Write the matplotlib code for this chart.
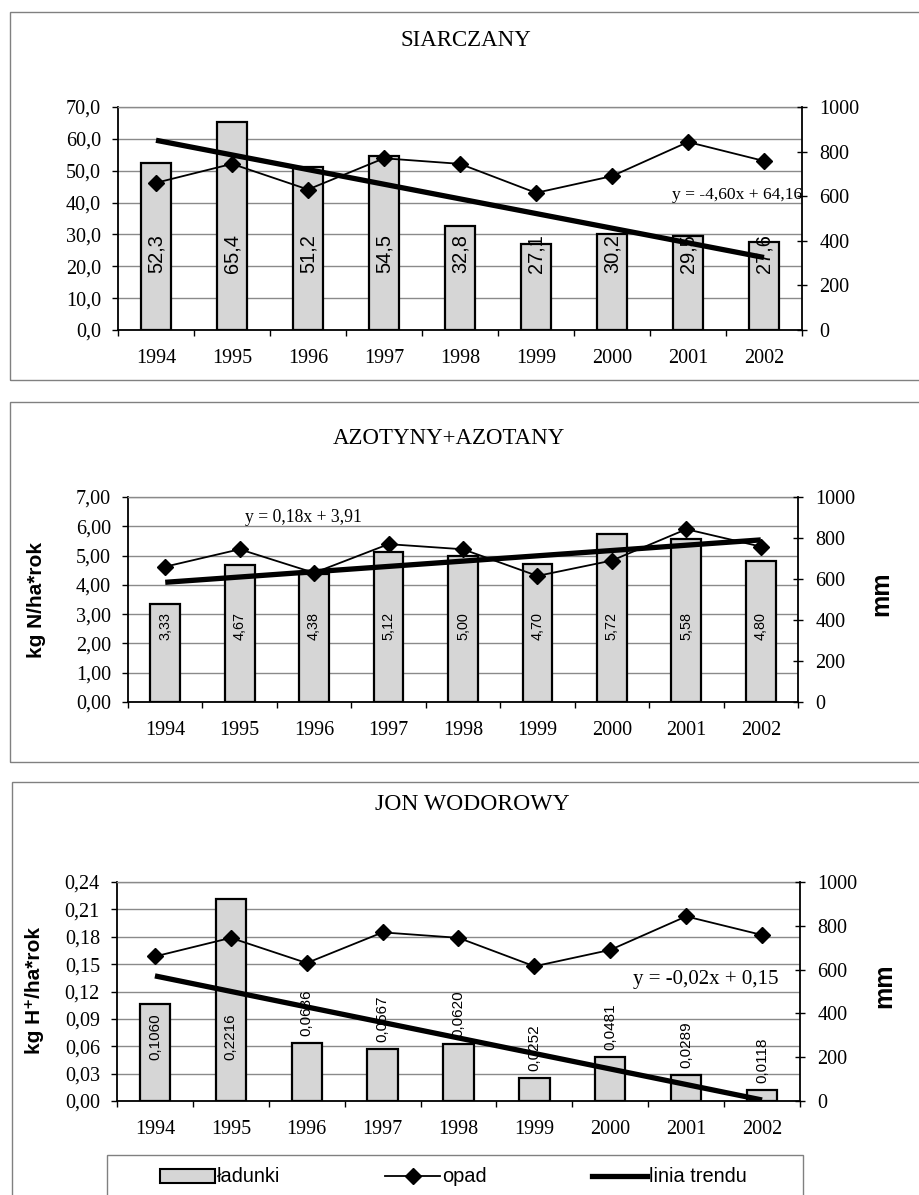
import numpy as np
import matplotlib.pyplot as plt
from matplotlib.patches import Rectangle, Patch
from matplotlib.lines import Line2D
from matplotlib.ticker import FuncFormatter, MultipleLocator, FixedLocator

years = [1994, 1995, 1996, 1997, 1998, 1999, 2000, 2001, 2002]

# annual precipitation, mm (same series on every panel)
opad = [660, 745, 630, 770, 745, 615, 690, 843, 758]

# loads, kg/ha*year
siarczany = [52.3, 65.4, 51.2, 54.5, 32.8, 27.1, 30.2, 29.5, 27.6]
azot = [3.33, 4.67, 4.38, 5.12, 5.00, 4.70, 5.72, 5.58, 4.80]
wodor = [0.1060, 0.2216, 0.0636, 0.0567, 0.0620, 0.0252, 0.0481, 0.0289, 0.0118]

# linear trend y = a*x + b, x = 1..9
trend_a = [-4.600, 0.181, -0.0170]
trend_b = [64.16, 3.906, 0.1541]

titles = ['SIARCZANY', 'AZOTYNY+AZOTANY', 'JON WODOROWY']
ylabels = [None, 'kg N/ha*rok', 'kg H⁺/ha*rok']
legend_labels = ['ładunki', 'opad', 'linia trendu']

W, H = 920, 1195
SERIF = 'Liberation Serif'
SANS = ['Liberation Sans', 'DejaVu Sans']
BAR = '#d6d6d6'
GRID = '#8a8a8a'
FRAME = '#808080'

plt.rcParams['font.family'] = SERIF

fig = plt.figure(figsize=(W / 100, H / 100), dpi=100)


def box(x0, y0, x1, y1):
    # pixel box (top-left origin) -> figure fraction rect
    return [x0 / W, 1 - y1 / H, (x1 - x0) / W, (y1 - y0) / H]


def pl(v, d):
    return f'{v:.{d}f}'.replace('.', ',')


def frame(x0, y0, x1, y1):
    fig.add_artist(Rectangle((x0 / W, 1 - y1 / H), (x1 - x0) / W, (y1 - y0) / H,
                             transform=fig.transFigure, fill=False,
                             ec=FRAME, lw=1.0, clip_on=False))


x = np.arange(1, len(years) + 1)


def panel(rect, vals, ymax, ystep, tdec, ldec, lab_y, lab_fs, k):
    ax = fig.add_axes(box(*rect))
    ax2 = ax.twinx()

    ax.bar(x, vals, width=0.4, color=BAR, edgecolor='black', lw=1.6, zorder=2)

    ax.set_xlim(0.5, len(years) + 0.5)
    ax.set_ylim(0, ymax)
    ax.yaxis.set_major_locator(MultipleLocator(ystep))
    ax.yaxis.set_major_formatter(FuncFormatter(lambda v, p: pl(v, tdec)))
    ax.yaxis.grid(True, color=GRID, lw=1.0)
    ax.set_axisbelow(True)

    ax.xaxis.set_major_locator(FixedLocator(x))
    ax.set_xticklabels([str(y) for y in years])
    ax.xaxis.set_minor_locator(FixedLocator(np.arange(0.5, len(years) + 1, 1)))
    ax.tick_params(axis='x', which='major', length=0, pad=14, labelsize=14.5)
    ax.tick_params(axis='x', which='minor', length=4.5, width=1.0, direction='out')
    ax.tick_params(axis='y', length=4.3, width=1.0, direction='out', pad=8,
                   labelsize=14.5)

    for s in ['left', 'bottom']:
        ax.spines[s].set_linewidth(1.3)
    ax.spines['right'].set_visible(False)
    ax.spines['top'].set_color(GRID)
    ax.spines['top'].set_linewidth(1.0)

    # value labels, rotated inside the bars (or just above the short ones)
    for xi, v in zip(x, vals):
        if lab_y is None or (k == 2 and v < 0.1):
            ax.annotate(pl(v, ldec), (xi, v), xytext=(0, 5), textcoords='offset points',
                        rotation=90, ha='center', va='bottom', fontsize=lab_fs,
                        family=SANS, zorder=3)
        else:
            ax.text(xi, lab_y, pl(v, ldec), rotation=90, ha='center', va='bottom',
                    fontsize=lab_fs, family=SANS, zorder=3)

    ax2.set_ylim(0, 1000)
    ax2.yaxis.set_major_locator(MultipleLocator(200))
    ax2.tick_params(axis='y', length=7, width=1.0, direction='inout', pad=9,
                    labelsize=14.5)
    for s in ['left', 'top', 'bottom']:
        ax2.spines[s].set_visible(False)
    ax2.spines['right'].set_linewidth(1.3)

    ax2.plot(x, opad, color='black', lw=1.3, marker='D', ms=8, zorder=4)

    # trend line, drawn on top in the left-axis scale
    a, b = trend_a[k], trend_b[k]
    ax2.plot(x, a * x + b, transform=ax.transData, color='black', lw=3.8,
             solid_capstyle='butt', zorder=5)
    ax2.set_xlim(0.5, len(years) + 0.5)
    return ax, ax2, f'y = {pl(a, 2)}x + {pl(b, 2)}'


# panel frames
frame(10, 12, 940, 380)
frame(10, 402, 940, 762)
frame(12, 782, 940, 1215)

# SIARCZANY
ax, ax2, eq = panel((118, 107, 802, 330), siarczany, 70, 10, 1, 1, 18, 14.4, 0)
ax.text(1.0, 0.605, eq, transform=ax.transAxes, ha='right', va='center',
        fontsize=12.6, zorder=6)
fig.text(466 / W, 1 - 40 / H, titles[0], ha='center', va='center', fontsize=16.5)

# AZOTYNY+AZOTANY
ax, ax2, eq = panel((128, 497, 798, 702), azot, 7, 1, 2, 2, 2.1, 10.4, 1)
ax.text(0.262, 0.902, eq, transform=ax.transAxes, ha='center', va='center',
        fontsize=12.7, zorder=6)
fig.text(449 / W, 1 - 438 / H, titles[1], ha='center', va='center', fontsize=16.5)
fig.text(36 / W, 1 - 600 / H, ylabels[1], rotation=90, ha='center', va='center',
         fontsize=15, fontweight='bold', family=SANS)
fig.text(881 / W, 1 - 594 / H, 'mm', rotation=90, ha='center', va='center',
         fontsize=18, fontweight='bold', family=SANS)

# JON WODOROWY
ax, ax2, eq = panel((117, 882, 800, 1101), wodor, 0.24, 0.03, 2, 4, 0.045, 11, 2)
ax.text(0.862, 0.553, eq, transform=ax.transAxes, ha='center', va='center',
        fontsize=15, zorder=6)
fig.text(472 / W, 1 - 805 / H, titles[2], ha='center', va='center', fontsize=17)
fig.text(35 / W, 1 - 991 / H, ylabels[2], rotation=90, ha='center', va='center',
         fontsize=15, fontweight='bold', family=SANS)
fig.text(884 / W, 1 - 986 / H, 'mm', rotation=90, ha='center', va='center',
         fontsize=18, fontweight='bold', family=SANS)

# legend along the bottom
frame(107, 1155, 803, 1215)
handles = [Patch(facecolor=BAR, edgecolor='black', lw=1.5),
           Line2D([], [], color='black', lw=1.3, marker='D', ms=8),
           Line2D([], [], color='black', lw=3.8)]
fig.legend(handles, legend_labels, loc='center left',
           bbox_to_anchor=(160 / W, 1 - 1177 / H), ncol=3, frameon=False,
           borderpad=0, borderaxespad=0, handlelength=2.75, handletextpad=0.1,
           columnspacing=5.25, prop={'family': SANS, 'size': 14.4})

fig.savefig('out.png', dpi=100)
